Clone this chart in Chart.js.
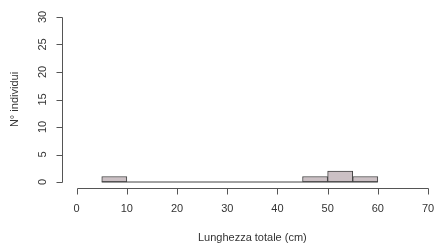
<!DOCTYPE html>
<html>
<head>
<meta charset="utf-8">
<script src="https://cdn.jsdelivr.net/npm/chart.js@4/dist/chart.umd.min.js"></script>
<style>
  html, body { margin: 0; padding: 0; background: #fff; }
  #wrap { width: 434px; height: 243px; }
</style>
</head>
<body>
<div id="wrap"><canvas id="hist"></canvas></div>
<script>
// Histogram bins (cm) and counts
const binEdges = [5, 10, 15, 20, 25, 30, 35, 40, 45, 50, 55, 60];
const counts = [1, 0, 0, 0, 0, 0, 0, 0, 1, 2, 1];

// Axis ticks
const xTicks = [0, 10, 20, 30, 40, 50, 60, 70];
const yTicks = [0, 5, 10, 15, 20, 25, 30];

const xTitle = "Lunghezza totale (cm)";
const yTitle = "N° individui";

// bars at bin centers
const barData = counts.map((c, i) => ({ x: (binEdges[i] + binEdges[i + 1]) / 2, y: c }));
// zero-height bins show as a flat line
const baseLine = [{ x: binEdges[0], y: 0 }, { x: binEdges[binEdges.length - 1], y: 0 }];

const FONT = "11px 'Liberation Sans', Arial, sans-serif";

// R style axes, drawn off the chart scales
const rAxes = {
  id: "rAxes",
  afterDraw(chart) {
    const { ctx, scales: { x, y } } = chart;
    ctx.save();
    ctx.strokeStyle = "#555";
    ctx.fillStyle = "#333";
    ctx.lineWidth = 1;
    ctx.font = FONT;

    // x axis
    const ay = 188.5;
    const x0 = Math.round(x.getPixelForValue(xTicks[0])) + 0.5;
    const x1 = Math.round(x.getPixelForValue(xTicks[xTicks.length - 1])) + 0.5;
    ctx.beginPath();
    ctx.moveTo(x0, ay); ctx.lineTo(x1, ay);
    xTicks.forEach(t => {
      const px = Math.round(x.getPixelForValue(t)) + 0.5;
      ctx.moveTo(px, ay); ctx.lineTo(px, ay + 6);
    });
    ctx.stroke();
    ctx.textAlign = "center";
    ctx.textBaseline = "middle";
    xTicks.forEach(t => ctx.fillText(String(t), x.getPixelForValue(t), 209));
    ctx.fillText(xTitle, (x.getPixelForValue(xTicks[0]) + x.getPixelForValue(xTicks[xTicks.length - 1])) / 2, 238);

    // y axis
    const ax = 62.5;
    const y0 = Math.round(y.getPixelForValue(yTicks[0])) + 0.5;
    const y1 = Math.round(y.getPixelForValue(yTicks[yTicks.length - 1])) + 0.5;
    ctx.beginPath();
    ctx.moveTo(ax, y0); ctx.lineTo(ax, y1);
    yTicks.forEach(t => {
      const py = Math.round(y.getPixelForValue(t)) + 0.5;
      ctx.moveTo(ax, py); ctx.lineTo(ax - 6, py);
    });
    ctx.stroke();
    yTicks.forEach(t => {
      ctx.save();
      ctx.translate(42.5, y.getPixelForValue(t));
      ctx.rotate(-Math.PI / 2);
      ctx.fillText(String(t), 0, 0);
      ctx.restore();
    });
    ctx.save();
    ctx.translate(15, (y.getPixelForValue(yTicks[0]) + y.getPixelForValue(yTicks[yTicks.length - 1])) / 2);
    ctx.rotate(-Math.PI / 2);
    ctx.fillText(yTitle, 0, 0);
    ctx.restore();

    ctx.restore();
  }
};

new Chart(document.getElementById("hist"), {
  type: "bar",
  data: {
    datasets: [
      {
        type: "line",
        data: baseLine,
        borderColor: "#444",
        borderWidth: 1,
        pointRadius: 0,
        order: 0
      },
      {
        data: barData,
        backgroundColor: "#cbc0c4",
        borderColor: "#444",
        borderWidth: 1,
        borderSkipped: false,
        barPercentage: 1,
        categoryPercentage: 1,
        order: 1
      }
    ]
  },
  options: {
    responsive: true,
    maintainAspectRatio: false,
    animation: false,
    layout: { padding: { left: 62.6, top: 10.4, right: 0, bottom: 54.4 } },
    plugins: { legend: { display: false }, tooltip: { enabled: false } },
    scales: {
      x: { type: "linear", display: false, offset: false, min: -2.8, max: 71.19 },
      y: { display: false, min: -1.2, max: 31.2 }
    }
  },
  plugins: [rAxes]
});
</script>
</body>
</html>
